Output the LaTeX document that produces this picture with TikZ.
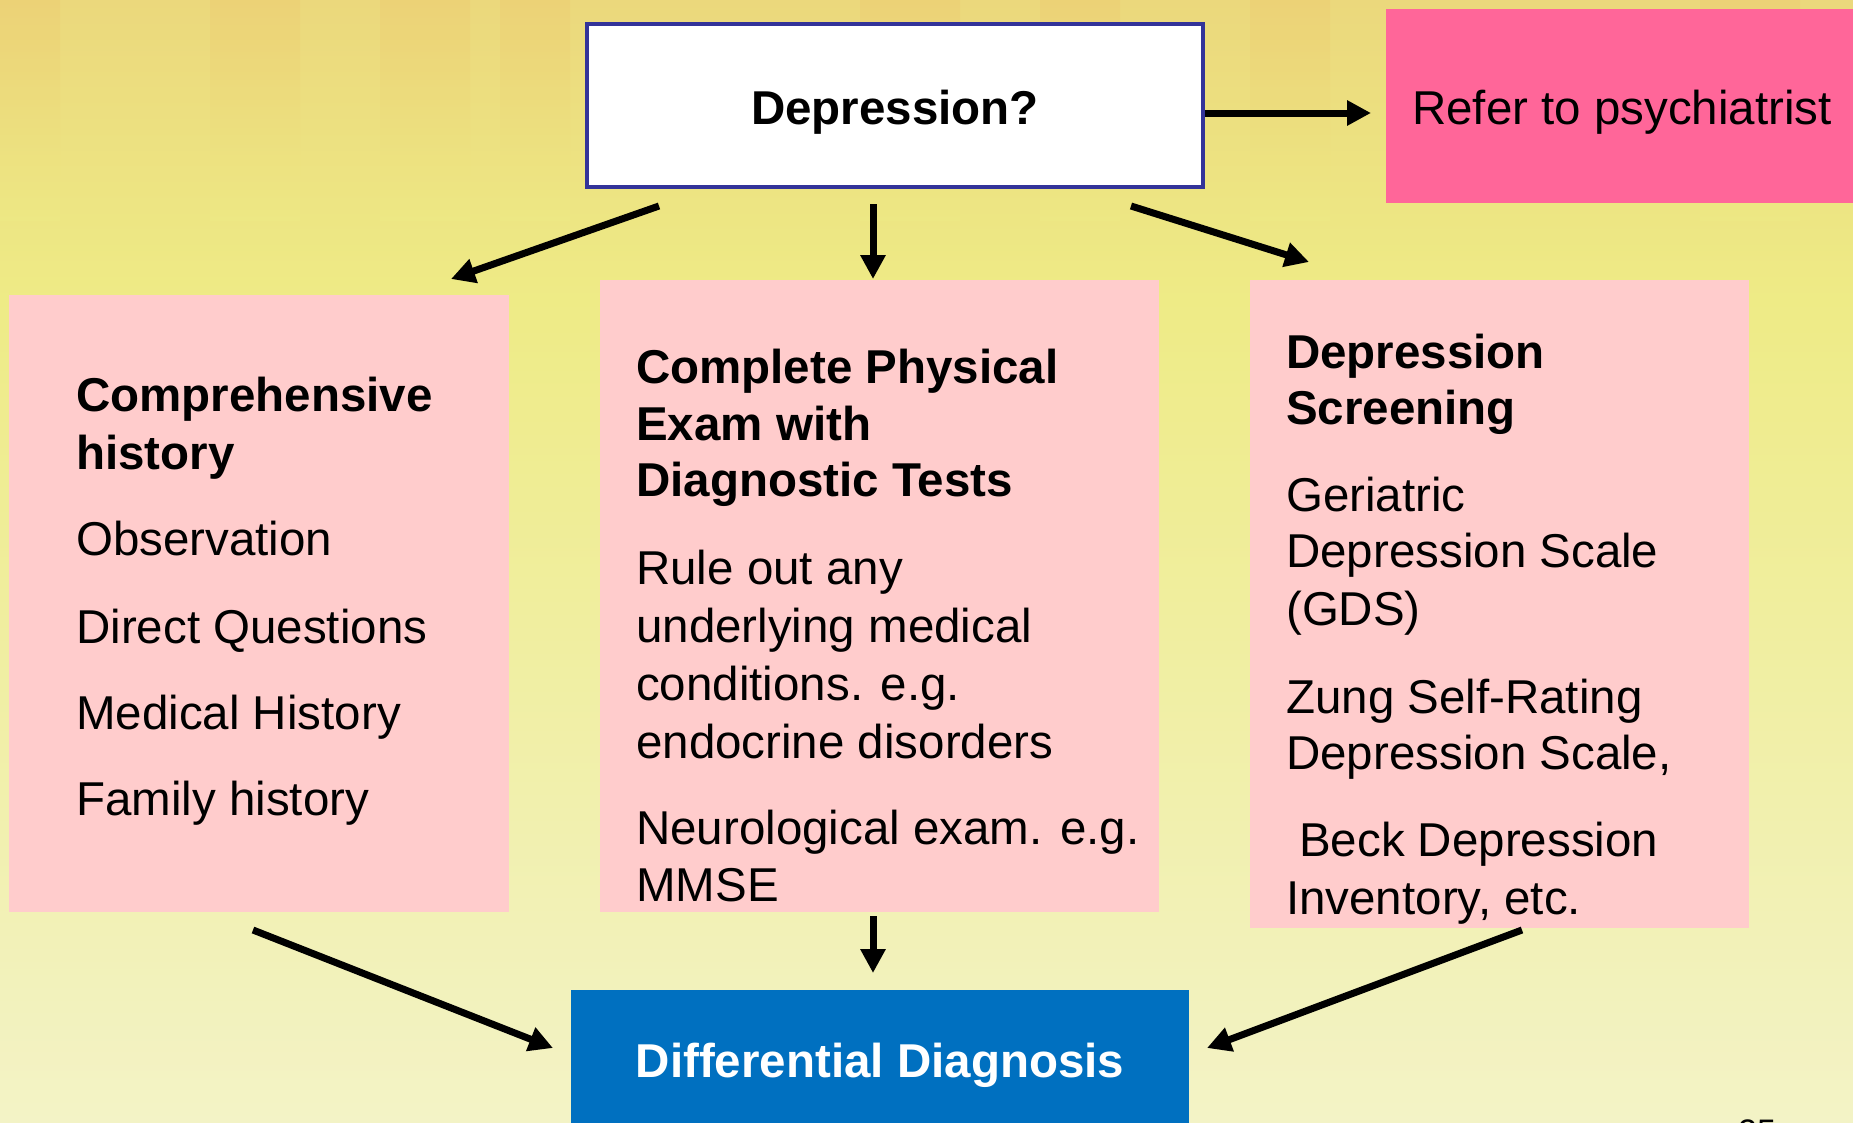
\documentclass[tikz,border=0pt]{standalone}
\usepackage{fontspec}
\setmainfont{Liberation Sans}
\usetikzlibrary{arrows.meta}
\definecolor{bgtop}{HTML}{EBD87C}
\definecolor{bgmid}{HTML}{EEEB86}
\definecolor{bgbot}{HTML}{F3F3C6}
\definecolor{streak}{HTML}{EECB70}
\definecolor{pinkbox}{HTML}{FFCCCC}
\definecolor{referpink}{HTML}{FF6699}
\definecolor{diagblue}{HTML}{0070C0}
\definecolor{qborder}{HTML}{333399}
\begin{document}
\begin{tikzpicture}[x=1pt,y=-1pt,
  arr/.style={line width=7pt,-{Triangle[length=24pt,width=24pt]}},
  txt/.style={anchor=base west,inner sep=0pt,font=\fontsize{47.5}{58}\selectfont},
  btxt/.style={anchor=base west,inner sep=0pt,font=\fontsize{47.5}{58}\selectfont\bfseries},
  panel/.style={fill=pinkbox,inner sep=0pt,anchor=north west},
]
% background
\useasboundingbox (0,0) rectangle (1853,1122);
\shade[top color=bgtop,bottom color=bgmid] (0,0) rectangle (1853,300);
\shade[top color=bgmid,bottom color=bgbot] (0,300) rectangle (1853,1122);
\foreach \a/\b in {0/60,210/300,380/470,500/570,860/960,1040/1120,1250/1330,1700/1800}{
  \shade[top color=streak,bottom color=bgmid,opacity=0.45] (\a,0) rectangle (\b,220);
}
% panels
\node[draw=qborder,line width=4pt,fill=white,minimum width=616pt,minimum height=163pt,inner sep=0pt] (q) at (895,105.5) {};
\node[fill=referpink,minimum width=467pt,minimum height=194pt,inner sep=0pt,anchor=north west] (refer) at (1386,9) {};
\node[panel,minimum width=500pt,minimum height=617pt] (hist) at (9,295) {};
\node[panel,minimum width=559pt,minimum height=632pt] (phys) at (600,280) {};
\node[panel,minimum width=499pt,minimum height=648pt] (screen) at (1250,280) {};
\node[fill=diagblue,minimum width=618pt,minimum height=140pt,inner sep=0pt,anchor=north west] (diag) at (571,990) {};
% texts
\node[btxt] (tq) at (895,124) [anchor=base] {Depression?};
\node[txt] (tr) at (1412,124) {Refer to psychiatrist};
\node[btxt,text=white,anchor=base] (td) at (880,1077) {Differential Diagnosis};
% left
\node[btxt] (l1) at (76,411) {Comprehensive};
\node[btxt] (l2) at (76,469) {history};
\node[txt] (l3) at (76,555) {Observation};
\node[txt] (l4) at (76,643) {Direct Questions};
\node[txt] (l5) at (76,729) {Medical History};
\node[txt] (l6) at (76,815) {Family history};
% middle
\node[btxt] (m1) at (636,383) {Complete Physical};
\node[btxt] (m2) at (636,440) {Exam with};
\node[btxt] (m3) at (636,496) {Diagnostic Tests};
\node[txt] (m4) at (636,584) {Rule out any};
\node[txt] (m5) at (636,642) {underlying medical};
\node[txt] (m6) at (636,700) {conditions. e.g.};
\node[txt] (m7) at (636,758) {endocrine disorders};
\node[txt] (m8) at (636,844) {Neurological exam. e.g.};
\node[txt] (m9) at (636,901) {MMSE};
% right
\node[btxt] (r1) at (1286,368) {Depression};
\node[btxt] (r2) at (1286,424) {Screening};
\node[txt] (r3) at (1286,511) {Geriatric};
\node[txt] (r4) at (1286,567) {Depression Scale};
\node[txt] (r5) at (1286,625) {(GDS)};
\node[txt] (r6) at (1286,713) {Zung Self-Rating};
\node[txt] (r7) at (1286,769) {Depression Scale,};
\node[txt] (r8) at (1299,856) {Beck Depression};
\node[txt] (r9) at (1286,914) {Inventory, etc.};
% page number
\node[anchor=base west,inner sep=0pt,font=\fontsize{34}{40}\selectfont] (pg) at (1738,1143) {25};
% arrow endpoints
\coordinate (qr1) at (1205,113);  \coordinate (qr2) at (1371,113);
\coordinate (qh1) at (659,206);   \coordinate (qh2) at (451,279);
\coordinate (qp1) at (873,204);   \coordinate (qp2) at (873,279);
\coordinate (qs1) at (1131,206);  \coordinate (qs2) at (1309,262);
\coordinate (hd1) at (253,930);   \coordinate (hd2) at (553,1048);
\coordinate (pd1) at (873,916);   \coordinate (pd2) at (873,973);
\coordinate (sd1) at (1522,930);  \coordinate (sd2) at (1207,1048);
\draw[arr] (qr1) -- (qr2);
\draw[arr] (qh1) -- (qh2);
\draw[arr] (qp1) -- (qp2);
\draw[arr] (qs1) -- (qs2);
\draw[arr] (hd1) -- (hd2);
\draw[arr] (pd1) -- (pd2);
\draw[arr] (sd1) -- (sd2);
\end{tikzpicture}
\end{document}
